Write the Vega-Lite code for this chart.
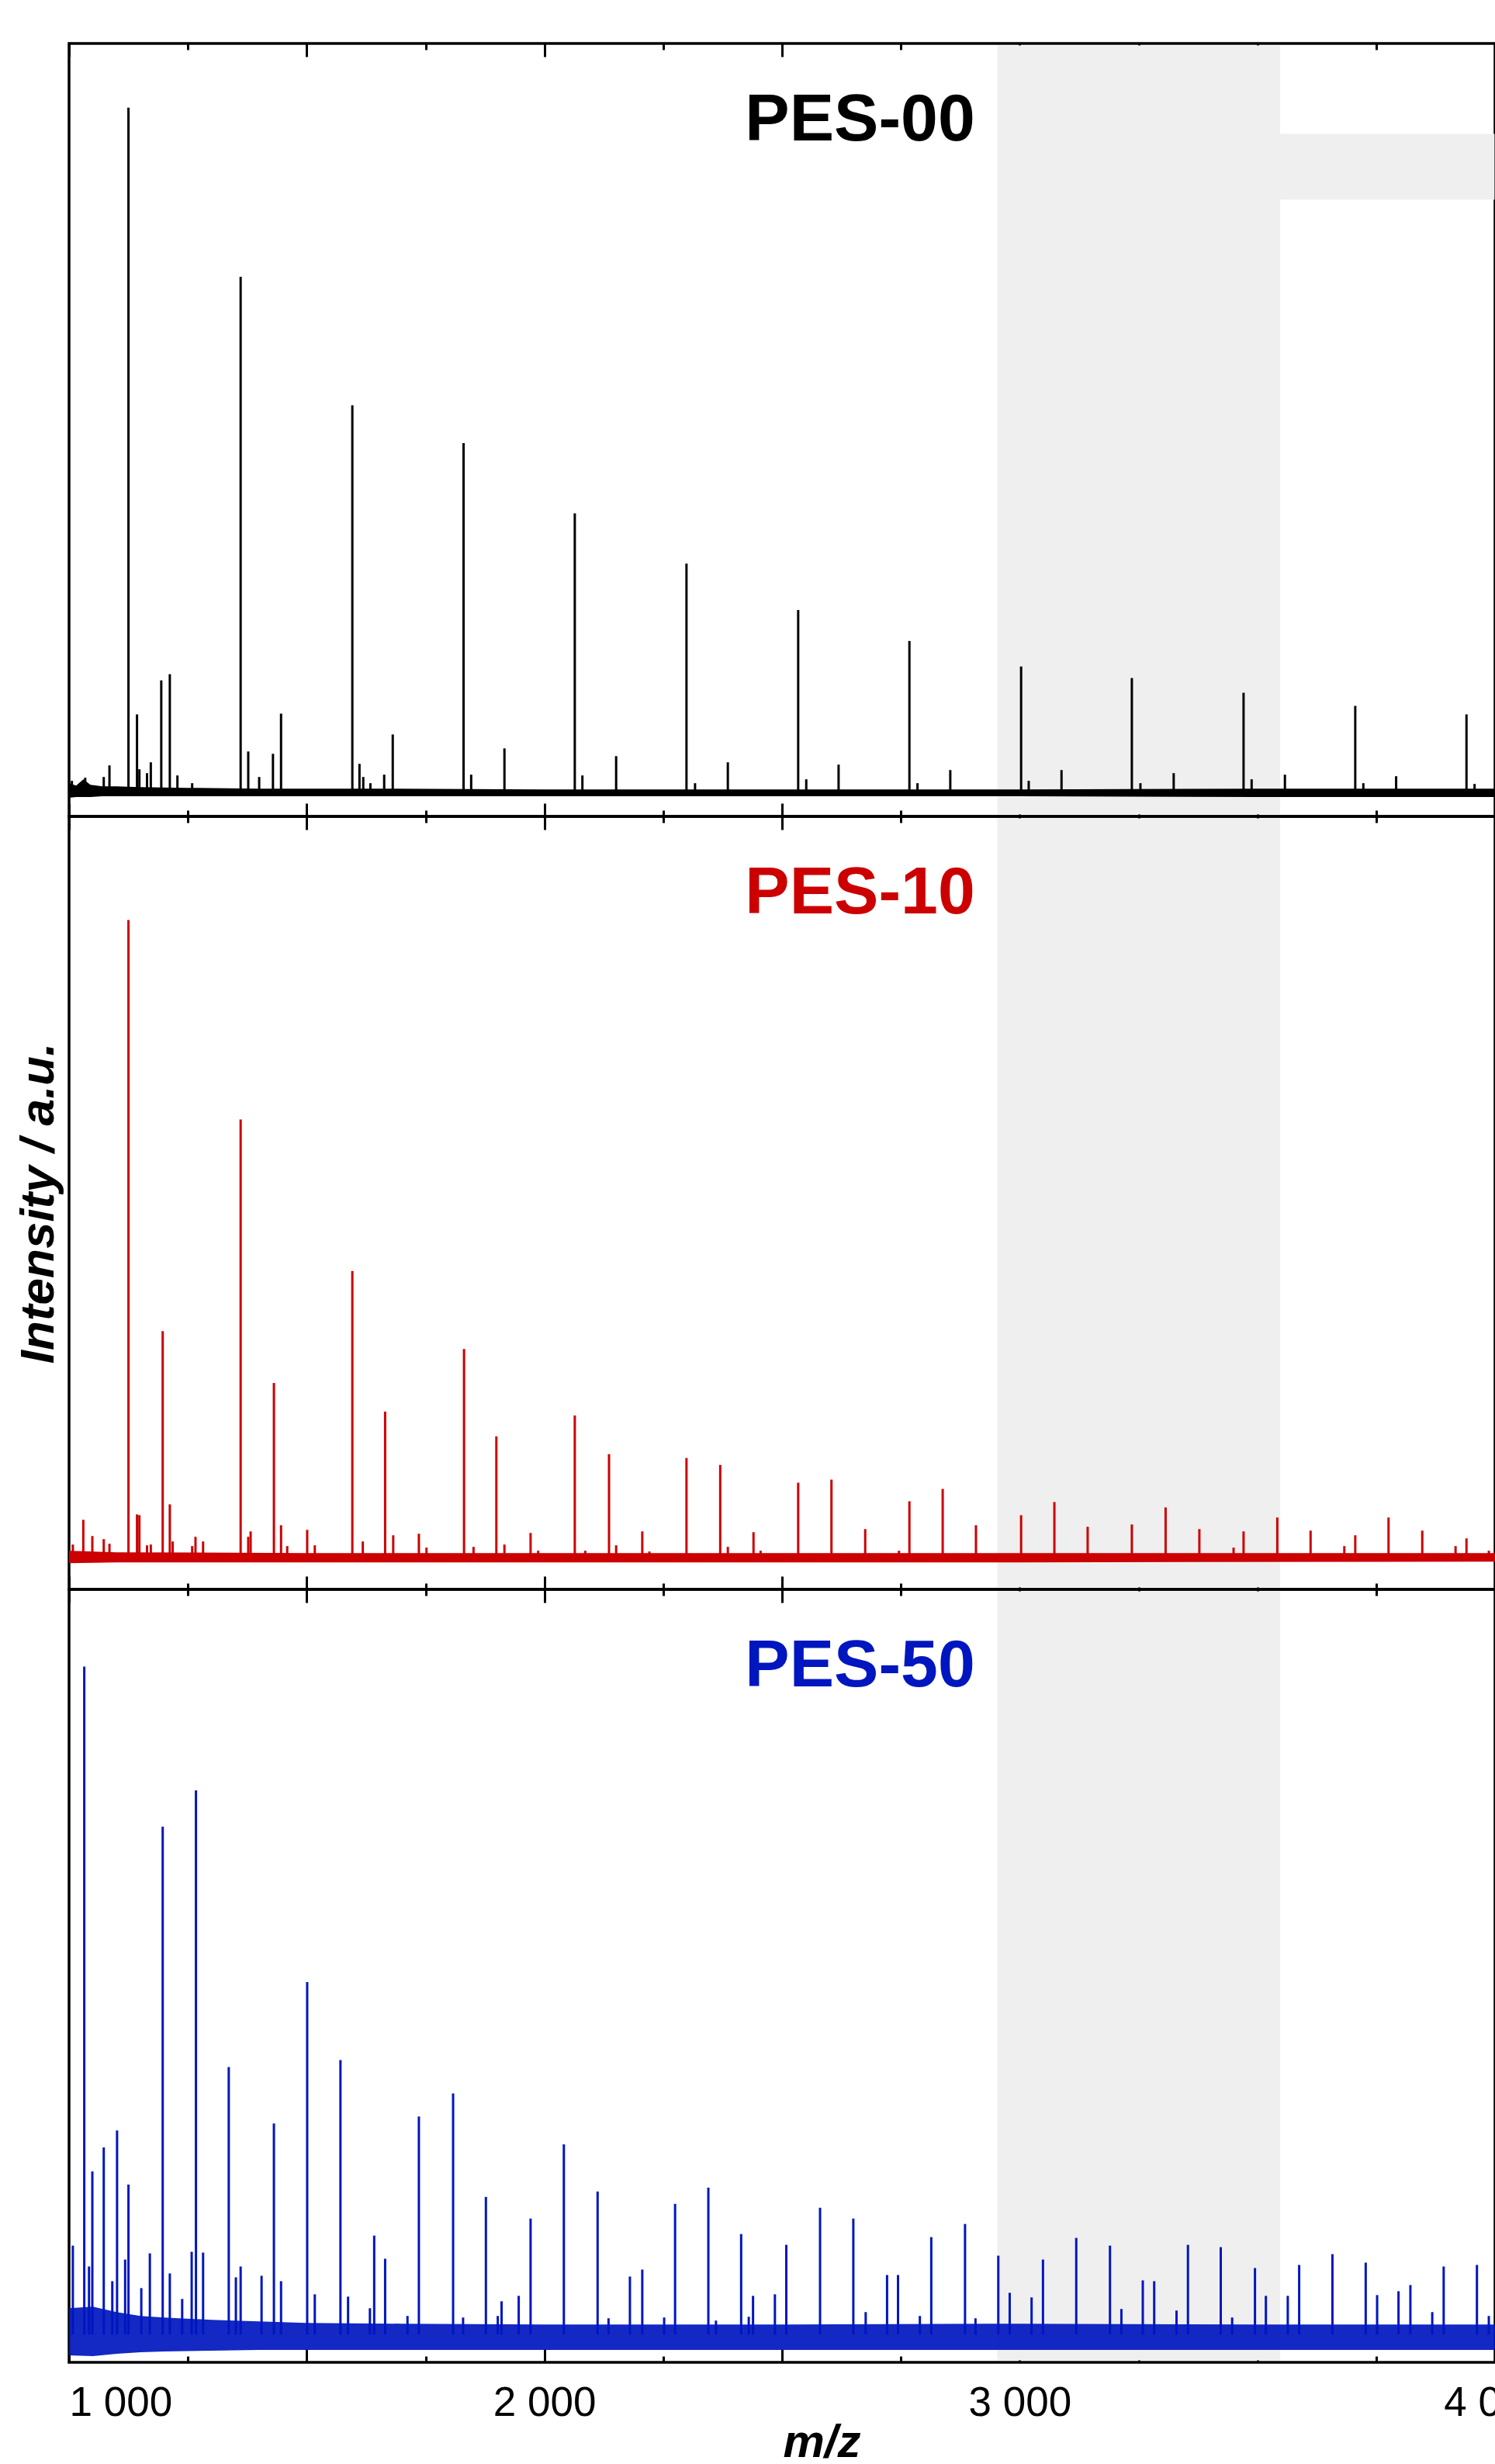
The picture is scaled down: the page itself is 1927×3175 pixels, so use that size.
{
  "$schema": "https://vega.github.io/schema/vega-lite/v6.json",
  "padding": {"left": 16, "top": 52, "right": 0, "bottom": 0},
  "background": "white",
  "spacing": 0,
  "bounds": "flush",
  "config": {
    "view": {"stroke": "black", "strokeWidth": 3.5},
    "font": "Liberation Sans",
    "axis": {"grid": false, "domain": false, "tickColor": "black", "tickWidth": 3, "labelColor": "black", "titleColor": "black"}
  },
  "datasets": {
    "one": [{}],
    "p1": [{"mz":1006,"v":4.6},{"mz":1034,"v":5.0},{"mz":1073,"v":5.1},{"mz":1085,"v":6.6},{"mz":1125,"v":91.7},{"mz":1143,"v":13.2},{"mz":1148,"v":6.1},{"mz":1164,"v":5.6},{"mz":1172,"v":7.0},{"mz":1194,"v":17.6},{"mz":1212,"v":18.4},{"mz":1228,"v":5.3},{"mz":1259,"v":4.3},{"mz":1361,"v":69.8},{"mz":1377,"v":8.4},{"mz":1400,"v":5.1},{"mz":1429,"v":8.1},{"mz":1446,"v":13.3},{"mz":1596,"v":53.2},{"mz":1611,"v":6.8},{"mz":1619,"v":5.1},{"mz":1634,"v":4.3},{"mz":1663,"v":5.4},{"mz":1681,"v":10.6},{"mz":1830,"v":48.3},{"mz":1846,"v":5.4},{"mz":1916,"v":8.8},{"mz":2064,"v":39.2},{"mz":2080,"v":5.3},{"mz":2151,"v":7.8},{"mz":2299,"v":32.7},{"mz":2317,"v":4.3},{"mz":2386,"v":7.0},{"mz":2534,"v":26.7},{"mz":2551,"v":4.8},{"mz":2619,"v":6.7},{"mz":2768,"v":22.7},{"mz":2785,"v":4.3},{"mz":2854,"v":6.0},{"mz":3003,"v":19.4},{"mz":3019,"v":4.6},{"mz":3088,"v":6.0},{"mz":3236,"v":17.9},{"mz":3254,"v":4.3},{"mz":3324,"v":5.6},{"mz":3471,"v":16.0},{"mz":3488,"v":4.8},{"mz":3558,"v":5.4},{"mz":3706,"v":14.3},{"mz":3723,"v":4.3},{"mz":3792,"v":5.2},{"mz":3940,"v":13.2},{"mz":3957,"v":4.2}],
    "p2": [{"mz":1008,"v":5.8},{"mz":1030,"v":9.0},{"mz":1049,"v":6.9},{"mz":1073,"v":6.5},{"mz":1085,"v":5.9},{"mz":1125,"v":86.6},{"mz":1143,"v":9.7},{"mz":1148,"v":9.6},{"mz":1164,"v":5.7},{"mz":1172,"v":5.8},{"mz":1197,"v":33.4},{"mz":1212,"v":11.0},{"mz":1218,"v":6.2},{"mz":1259,"v":5.6},{"mz":1266,"v":6.8},{"mz":1282,"v":6.2},{"mz":1361,"v":60.8},{"mz":1377,"v":6.8},{"mz":1382,"v":7.5},{"mz":1431,"v":26.7},{"mz":1446,"v":8.3},{"mz":1459,"v":5.6},{"mz":1501,"v":7.7},{"mz":1517,"v":5.7},{"mz":1596,"v":41.2},{"mz":1618,"v":6.2},{"mz":1665,"v":23.0},{"mz":1682,"v":7.0},{"mz":1736,"v":7.2},{"mz":1752,"v":5.4},{"mz":1831,"v":31.1},{"mz":1851,"v":5.5},{"mz":1899,"v":19.8},{"mz":1916,"v":5.8},{"mz":1971,"v":7.3},{"mz":1987,"v":5.0},{"mz":2064,"v":22.5},{"mz":2086,"v":5.0},{"mz":2136,"v":17.5},{"mz":2151,"v":5.7},{"mz":2206,"v":7.5},{"mz":2221,"v":4.9},{"mz":2299,"v":17.0},{"mz":2370,"v":16.1},{"mz":2386,"v":5.5},{"mz":2440,"v":7.4},{"mz":2455,"v":5.0},{"mz":2534,"v":13.8},{"mz":2604,"v":14.2},{"mz":2675,"v":7.8},{"mz":2746,"v":5.0},{"mz":2768,"v":11.4},{"mz":2838,"v":13.0},{"mz":2908,"v":8.3},{"mz":3003,"v":9.6},{"mz":3073,"v":11.3},{"mz":3143,"v":8.1},{"mz":3236,"v":8.4},{"mz":3307,"v":10.6},{"mz":3378,"v":7.8},{"mz":3450,"v":5.4},{"mz":3471,"v":7.5},{"mz":3542,"v":9.3},{"mz":3612,"v":7.6},{"mz":3683,"v":5.6},{"mz":3706,"v":7.0},{"mz":3776,"v":9.3},{"mz":3847,"v":7.6},{"mz":3917,"v":5.6},{"mz":3940,"v":6.6},{"mz":3987,"v":5.0}],
    "p3": [{"mz":1008,"v":15.1},{"mz":1032,"v":90.0},{"mz":1042,"v":12.4},{"mz":1049,"v":24.7},{"mz":1073,"v":27.8},{"mz":1091,"v":10.5},{"mz":1101,"v":30.0},{"mz":1118,"v":13.3},{"mz":1125,"v":23.0},{"mz":1152,"v":9.6},{"mz":1170,"v":14.1},{"mz":1197,"v":69.3},{"mz":1212,"v":11.5},{"mz":1238,"v":8.2},{"mz":1258,"v":14.3},{"mz":1267,"v":74.0},{"mz":1282,"v":14.2},{"mz":1336,"v":38.2},{"mz":1351,"v":11.0},{"mz":1361,"v":12.4},{"mz":1405,"v":11.2},{"mz":1431,"v":30.9},{"mz":1446,"v":10.5},{"mz":1501,"v":49.2},{"mz":1517,"v":8.8},{"mz":1571,"v":39.1},{"mz":1587,"v":8.5},{"mz":1633,"v":7.0},{"mz":1642,"v":16.4},{"mz":1665,"v":13.4},{"mz":1712,"v":6.0},{"mz":1736,"v":31.8},{"mz":1808,"v":34.8},{"mz":1829,"v":5.8},{"mz":1877,"v":21.4},{"mz":1902,"v":6.0},{"mz":1910,"v":7.9},{"mz":1946,"v":8.6},{"mz":1971,"v":18.6},{"mz":2041,"v":28.2},{"mz":2112,"v":22.1},{"mz":2135,"v":5.7},{"mz":2180,"v":11.1},{"mz":2206,"v":12.0},{"mz":2252,"v":5.8},{"mz":2275,"v":20.5},{"mz":2345,"v":22.6},{"mz":2361,"v":5.4},{"mz":2414,"v":16.6},{"mz":2430,"v":5.9},{"mz":2439,"v":8.6},{"mz":2485,"v":8.8},{"mz":2509,"v":15.2},{"mz":2580,"v":20.0},{"mz":2650,"v":18.6},{"mz":2676,"v":6.5},{"mz":2721,"v":11.3},{"mz":2744,"v":11.3},{"mz":2790,"v":6.0},{"mz":2814,"v":16.2},{"mz":2885,"v":17.9},{"mz":2907,"v":5.7},{"mz":2955,"v":13.8},{"mz":2979,"v":9.0},{"mz":3025,"v":8.4},{"mz":3049,"v":13.3},{"mz":3119,"v":16.1},{"mz":3190,"v":15.1},{"mz":3214,"v":6.9},{"mz":3259,"v":10.6},{"mz":3283,"v":10.5},{"mz":3330,"v":6.7},{"mz":3354,"v":15.2},{"mz":3423,"v":14.9},{"mz":3447,"v":5.8},{"mz":3495,"v":12.2},{"mz":3518,"v":8.6},{"mz":3564,"v":8.6},{"mz":3588,"v":12.6},{"mz":3658,"v":14.0},{"mz":3728,"v":12.9},{"mz":3752,"v":8.7},{"mz":3797,"v":9.2},{"mz":3822,"v":10.0},{"mz":3868,"v":6.5},{"mz":3892,"v":12.4},{"mz":3962,"v":12.6},{"mz":3987,"v":6.0}],
    "n1": [{"mz":1000,"lo":2.4,"hi":4.3},{"mz":1015,"lo":2.5,"hi":4.0},{"mz":1030,"lo":2.5,"hi":4.8},{"mz":1045,"lo":2.5,"hi":4.1},{"mz":1070,"lo":2.6,"hi":3.9},{"mz":1100,"lo":2.6,"hi":3.9},{"mz":1150,"lo":2.6,"hi":3.8},{"mz":1250,"lo":2.6,"hi":3.7},{"mz":1400,"lo":2.6,"hi":3.6},{"mz":1600,"lo":2.6,"hi":3.6},{"mz":2000,"lo":2.6,"hi":3.5},{"mz":2500,"lo":2.6,"hi":3.5},{"mz":3000,"lo":2.6,"hi":3.5},{"mz":3500,"lo":2.5,"hi":3.6},{"mz":4000,"lo":2.5,"hi":3.6}],
    "n2": [{"mz":1000,"lo":3.4,"hi":5.0},{"mz":1100,"lo":3.5,"hi":4.8},{"mz":1500,"lo":3.5,"hi":4.7},{"mz":2000,"lo":3.5,"hi":4.7},{"mz":3000,"lo":3.5,"hi":4.7},{"mz":4000,"lo":3.6,"hi":4.7}],
    "n3": [{"mz":1000,"lo":0.9,"hi":7.0},{"mz":1050,"lo":0.8,"hi":7.2},{"mz":1100,"lo":1.1,"hi":6.5},{"mz":1150,"lo":1.3,"hi":6.0},{"mz":1200,"lo":1.4,"hi":5.8},{"mz":1300,"lo":1.5,"hi":5.5},{"mz":1400,"lo":1.6,"hi":5.3},{"mz":1500,"lo":1.6,"hi":5.1},{"mz":1700,"lo":1.6,"hi":5.0},{"mz":2000,"lo":1.6,"hi":4.9},{"mz":2500,"lo":1.6,"hi":4.9},{"mz":3000,"lo":1.6,"hi":5.0},{"mz":3500,"lo":1.6,"hi":4.9},{"mz":4000,"lo":1.6,"hi":4.9}]
  },
  "vconcat": [
    {
      "width": 1838, "height": 996,
      "layer": [
        {"data": {"name": "one"}, "mark": {"type": "rect", "color": "#efefef"},
         "encoding": {"x": {"datum": 2953, "type": "quantitative", "scale": {"domain": [1000, 4000], "nice": false, "zero": false}, "axis": null}, "x2": {"datum": 3548},
                      "y": {"datum": 0.25, "type": "quantitative", "scale": {"domain": [0, 100], "nice": false, "zero": false}, "axis": null}, "y2": {"datum": 99.75}}},
        {"data": {"name": "one"}, "mark": {"type": "rect", "color": "#efefef"},
         "encoding": {"x": {"datum": 3548, "type": "quantitative", "scale": {"domain": [1000, 4000], "nice": false, "zero": false}, "axis": null}, "x2": {"datum": 3999},
                      "y": {"datum": 88.3, "type": "quantitative", "scale": {"domain": [0, 100], "nice": false, "zero": false}, "axis": null}, "y2": {"datum": 79.8}}},
        {"data": {"name": "n1"}, "mark": {"type": "area", "color": "black"},
         "encoding": {"x": {"field": "mz", "type": "quantitative", "scale": {"domain": [1000, 4000], "nice": false, "zero": false},
                            "axis": {"orient": "bottom", "values": [1000,1500,2000,2500,3000,3500,4000], "offset": -17, "tickSize": 17, "labels": false, "title": null}},
                      "y": {"field": "lo", "type": "quantitative", "scale": {"domain": [0, 100], "nice": false, "zero": false},
                            "axis": {"title": "Intensity / a.u.", "titleFontSize": 62, "titleFontStyle": "italic", "titleFontWeight": "bold", "titleOpacity": 0, "titlePadding": 8, "labels": false, "ticks": false}},
                      "y2": {"field": "hi"}}},
        {"data": {"name": "p1"}, "mark": {"type": "rule", "color": "black", "strokeWidth": 3},
         "encoding": {"x": {"field": "mz", "type": "quantitative", "scale": {"domain": [1000, 4000], "nice": false, "zero": false},
                            "axis": {"orient": "top", "values": [1000,1500,2000,2500,3000,3500,4000], "offset": -17, "tickSize": 17, "labels": false, "title": null}},
                      "y": {"field": "v", "type": "quantitative", "scale": {"domain": [0, 100], "nice": false, "zero": false}, "axis": null},
                      "y2": {"datum": 3.0}}},
        {"data": {"name": "p1"}, "mark": {"type": "point", "opacity": 0},
         "encoding": {"x": {"field": "mz", "type": "quantitative", "scale": {"domain": [1000, 4000], "nice": false, "zero": false},
                            "axis": {"orient": "bottom", "values": [1250,1750,2250,2750,3250,3750], "offset": -8, "tickSize": 8, "labels": false, "title": null}},
                      "y": {"field": "v", "type": "quantitative", "scale": {"domain": [0, 100], "nice": false, "zero": false}, "axis": null}}},
        {"data": {"name": "p1"}, "mark": {"type": "point", "opacity": 0},
         "encoding": {"x": {"field": "mz", "type": "quantitative", "scale": {"domain": [1000, 4000], "nice": false, "zero": false},
                            "axis": {"orient": "top", "values": [1250,1750,2250,2750,3250,3750], "offset": -8, "tickSize": 8, "labels": false, "title": null}},
                      "y": {"field": "v", "type": "quantitative", "scale": {"domain": [0, 100], "nice": false, "zero": false}, "axis": null}}},
        {"data": {"name": "one"}, "mark": {"type": "text", "color": "black", "font": "Liberation Sans", "fontWeight": "bold", "fontSize": 86, "align": "right", "baseline": "alphabetic"},
         "encoding": {"x": {"datum": 2906, "type": "quantitative", "scale": {"domain": [1000, 4000], "nice": false, "zero": false}, "axis": null},
                      "y": {"datum": 87.5, "type": "quantitative", "scale": {"domain": [0, 100], "nice": false, "zero": false}, "axis": null},
                      "text": {"value": "PES-00"}}}
      ],
      "resolve": {"axis": {"x": "independent", "y": "independent"}}
    },
    {
      "width": 1838, "height": 996,
      "layer": [
        {"data": {"name": "one"}, "mark": {"type": "rect", "color": "#efefef"},
         "encoding": {"x": {"datum": 2953, "type": "quantitative", "scale": {"domain": [1000, 4000], "nice": false, "zero": false}, "axis": null}, "x2": {"datum": 3548},
                      "y": {"datum": 0.25, "type": "quantitative", "scale": {"domain": [0, 100], "nice": false, "zero": false}, "axis": null}, "y2": {"datum": 99.75}}},
        {"data": {"name": "n2"}, "mark": {"type": "area", "color": "#cc0000"},
         "encoding": {"x": {"field": "mz", "type": "quantitative", "scale": {"domain": [1000, 4000], "nice": false, "zero": false},
                            "axis": {"orient": "bottom", "values": [1000,1500,2000,2500,3000,3500,4000], "offset": -17, "tickSize": 17, "labels": false, "title": null}},
                      "y": {"field": "lo", "type": "quantitative", "scale": {"domain": [0, 100], "nice": false, "zero": false},
                            "axis": {"title": "Intensity / a.u.", "titleFontSize": 62, "titleFontStyle": "italic", "titleFontWeight": "bold", "titlePadding": 8, "labels": false, "ticks": false}},
                      "y2": {"field": "hi"}}},
        {"data": {"name": "p2"}, "mark": {"type": "rule", "color": "#cc0000", "strokeWidth": 3},
         "encoding": {"x": {"field": "mz", "type": "quantitative", "scale": {"domain": [1000, 4000], "nice": false, "zero": false},
                            "axis": {"orient": "top", "values": [1000,1500,2000,2500,3000,3500,4000], "offset": -17, "tickSize": 17, "labels": false, "title": null}},
                      "y": {"field": "v", "type": "quantitative", "scale": {"domain": [0, 100], "nice": false, "zero": false}, "axis": null},
                      "y2": {"datum": 4.1}}},
        {"data": {"name": "p2"}, "mark": {"type": "point", "opacity": 0},
         "encoding": {"x": {"field": "mz", "type": "quantitative", "scale": {"domain": [1000, 4000], "nice": false, "zero": false},
                            "axis": {"orient": "bottom", "values": [1250,1750,2250,2750,3250,3750], "offset": -8, "tickSize": 8, "labels": false, "title": null}},
                      "y": {"field": "v", "type": "quantitative", "scale": {"domain": [0, 100], "nice": false, "zero": false}, "axis": null}}},
        {"data": {"name": "p2"}, "mark": {"type": "point", "opacity": 0},
         "encoding": {"x": {"field": "mz", "type": "quantitative", "scale": {"domain": [1000, 4000], "nice": false, "zero": false},
                            "axis": {"orient": "top", "values": [1250,1750,2250,2750,3250,3750], "offset": -8, "tickSize": 8, "labels": false, "title": null}},
                      "y": {"field": "v", "type": "quantitative", "scale": {"domain": [0, 100], "nice": false, "zero": false}, "axis": null}}},
        {"data": {"name": "one"}, "mark": {"type": "text", "color": "#cc0000", "font": "Liberation Sans", "fontWeight": "bold", "fontSize": 86, "align": "right", "baseline": "alphabetic"},
         "encoding": {"x": {"datum": 2906, "type": "quantitative", "scale": {"domain": [1000, 4000], "nice": false, "zero": false}, "axis": null},
                      "y": {"datum": 87.5, "type": "quantitative", "scale": {"domain": [0, 100], "nice": false, "zero": false}, "axis": null},
                      "text": {"value": "PES-10"}}}
      ],
      "resolve": {"axis": {"x": "independent", "y": "independent"}}
    },
    {
      "width": 1838, "height": 996,
      "layer": [
        {"data": {"name": "one"}, "mark": {"type": "rect", "color": "#efefef"},
         "encoding": {"x": {"datum": 2953, "type": "quantitative", "scale": {"domain": [1000, 4000], "nice": false, "zero": false}, "axis": null}, "x2": {"datum": 3548},
                      "y": {"datum": 0.25, "type": "quantitative", "scale": {"domain": [0, 100], "nice": false, "zero": false}, "axis": null}, "y2": {"datum": 99.75}}},
        {"data": {"name": "n3"}, "mark": {"type": "area", "color": "#0016bf", "opacity": 0.92},
         "encoding": {"x": {"field": "mz", "type": "quantitative", "scale": {"domain": [1000, 4000], "nice": false, "zero": false},
                            "axis": {"orient": "bottom", "values": [1000,1500,2000,2500,3000,3500,4000], "offset": -17, "tickSize": 17, "labels": true, "labelFlush": false,
                                     "labelExpr": "datum.value % 1000 === 0 ? replace(format(datum.value, ','), ',', ' ') : ''",
                                     "labelAlign": {"condition": {"test": "datum.value === 1000", "value": "left"}, "value": "center"},
                                     "labelFont": "Liberation Sans", "labelFontSize": 53, "labelPadding": 26,
                                     "title": "m/z", "titleFont": "Liberation Sans", "titleFontSize": 60, "titleFontStyle": "italic", "titleFontWeight": "bold", "titlePadding": -5, "titleX": 970}},
                      "y": {"field": "lo", "type": "quantitative", "scale": {"domain": [0, 100], "nice": false, "zero": false},
                            "axis": {"title": "Intensity / a.u.", "titleFontSize": 62, "titleFontStyle": "italic", "titleFontWeight": "bold", "titleOpacity": 0, "titlePadding": 8, "labels": false, "ticks": false}},
                      "y2": {"field": "hi"}}},
        {"data": {"name": "p3"}, "mark": {"type": "rule", "color": "#0016bf", "strokeWidth": 3},
         "encoding": {"x": {"field": "mz", "type": "quantitative", "scale": {"domain": [1000, 4000], "nice": false, "zero": false},
                            "axis": {"orient": "top", "values": [1000,1500,2000,2500,3000,3500,4000], "offset": -17, "tickSize": 17, "labels": false, "title": null}},
                      "y": {"field": "v", "type": "quantitative", "scale": {"domain": [0, 100], "nice": false, "zero": false}, "axis": null},
                      "y2": {"datum": 3.6}}},
        {"data": {"name": "p3"}, "mark": {"type": "point", "opacity": 0},
         "encoding": {"x": {"field": "mz", "type": "quantitative", "scale": {"domain": [1000, 4000], "nice": false, "zero": false},
                            "axis": {"orient": "bottom", "values": [1250,1750,2250,2750,3250,3750], "offset": -8, "tickSize": 8, "labels": false, "title": null}},
                      "y": {"field": "v", "type": "quantitative", "scale": {"domain": [0, 100], "nice": false, "zero": false}, "axis": null}}},
        {"data": {"name": "p3"}, "mark": {"type": "point", "opacity": 0},
         "encoding": {"x": {"field": "mz", "type": "quantitative", "scale": {"domain": [1000, 4000], "nice": false, "zero": false},
                            "axis": {"orient": "top", "values": [1250,1750,2250,2750,3250,3750], "offset": -8, "tickSize": 8, "labels": false, "title": null}},
                      "y": {"field": "v", "type": "quantitative", "scale": {"domain": [0, 100], "nice": false, "zero": false}, "axis": null}}},
        {"data": {"name": "one"}, "mark": {"type": "text", "color": "#0016bf", "font": "Liberation Sans", "fontWeight": "bold", "fontSize": 86, "align": "right", "baseline": "alphabetic"},
         "encoding": {"x": {"datum": 2906, "type": "quantitative", "scale": {"domain": [1000, 4000], "nice": false, "zero": false}, "axis": null},
                      "y": {"datum": 87.5, "type": "quantitative", "scale": {"domain": [0, 100], "nice": false, "zero": false}, "axis": null},
                      "text": {"value": "PES-50"}}}
      ],
      "resolve": {"axis": {"x": "independent", "y": "independent"}}
    }
  ]
}
